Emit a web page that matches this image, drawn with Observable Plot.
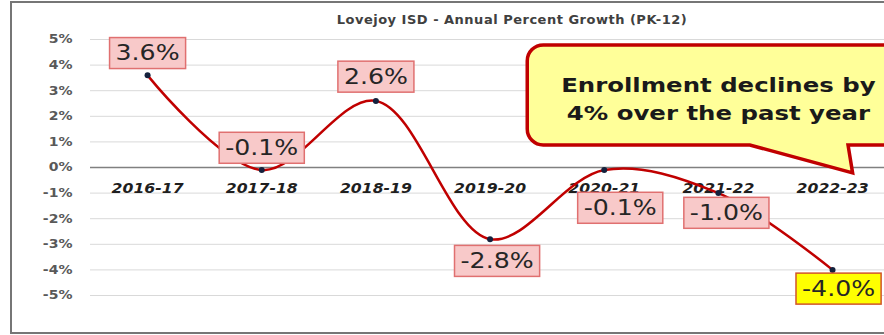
<!DOCTYPE html>
<html>
<head>
<meta charset="utf-8">
<script src="https://cdn.jsdelivr.net/npm/d3@7"></script>
<script src="https://cdn.jsdelivr.net/npm/@observablehq/plot@0.6"></script>
<style>
  html, body { margin: 0; padding: 0; background: #fff; }
  #wrap { position: relative; width: 884px; height: 335px; overflow: hidden; background: #fff; }
  #frame { position: absolute; left: 10px; top: 1px; width: 1010px; height: 333px; border: 2px solid #767676; box-sizing: border-box; pointer-events: none; }
  #title { position: relative; margin-left: 11px; width: 1002px; height: 33px; box-sizing: border-box; padding-top: 12px; line-height: 16px; text-align: center;
           font-family: "DejaVu Sans"; font-weight: bold; font-size: 13px; letter-spacing: 0.5px; color: #404040; white-space: nowrap; }
  #chart { position: relative; width: 884px; height: 302px; }
  #chart svg { display: block; }
</style>
</head>
<body>
<div id="wrap">
  <div id="title"></div>
  <div id="chart"></div>
  <div id="frame"></div>
</div>
<script>
// ---- data ----
const categories = ["2016-17", "2017-18", "2018-19", "2019-20", "2020-21", "2021-22", "2022-23"];
const growth = [3.6, -0.1, 2.6, -2.8, -0.1, -1.0, -4.0];
const yTicks = [5, 4, 3, 2, 1, 0, -1, -2, -3, -4, -5];
const titleText = "Lovejoy ISD - Annual Percent Growth (PK-12)";
const calloutLines = ["Enrollment declines by", "4% over the past year"];

// ---- layout (annotation placement, not data) ----
const labelOffsetX = [0, 0, 0, 7, 16, 8, 6];
const labelOffsetY = [-22, -22, -24, 22, 38, 20, 19];
const highlightIndex = 6;
const callout = { x1: 3.33, x2: 7.2, yTop: 4.77, yBottom: 0.86, tailLeft: 5.28, tailRight: 6.14, tipX: 6.18, tipY: -0.23, textX: 5.0, textY: 2.77 };

document.getElementById("title").textContent = titleText;

const idx = (d, i) => i;

function calloutMark(index, scales) {
  const x = scales.x, y = scales.y;
  const L = x(callout.x1), R = x(callout.x2), T = y(callout.yTop), B = y(callout.yBottom);
  const bl = x(callout.tailLeft), br = x(callout.tailRight), tx = x(callout.tipX), ty = y(callout.tipY);
  const r = 16;
  const p = d3.path();
  p.moveTo(L + r, T);
  p.lineTo(R, T);
  p.lineTo(R, B);
  p.lineTo(br, B);
  p.lineTo(tx, ty);
  p.lineTo(bl, B);
  p.lineTo(L + r, B);
  p.arcTo(L, B, L, B - r, r);
  p.lineTo(L, T + r);
  p.arcTo(L, T, L + r, T, r);
  p.closePath();
  const g = d3.create("svg:g").attr("class", "callout");
  g.append("path").attr("d", p.toString()).attr("fill", "#ffff99").attr("stroke", "#c00000")
    .attr("stroke-width", 3.5).attr("stroke-linejoin", "miter");
  return g.node();
}

// value labels: one mark per label so each can carry its own offset
const labelMarks = growth.map((v, i) => Plot.text([v], {
  x: () => i,
  y: d => d,
  text: d => d.toFixed(1) + "%",
  dx: labelOffsetX[i],
  dy: labelOffsetY[i],
  fontFamily: "DejaVu Sans",
  fontSize: 21,
  fontWeight: "normal",
  fill: "#262626"
}));

const chart = Plot.plot({
  width: 884,
  height: 302,
  marginLeft: 90,
  marginRight: 0,
  marginTop: 6,
  marginBottom: 40,
  x: { domain: [-0.5, 6.455], axis: null },
  y: { domain: [-5, 5], ticks: yTicks, tickFormat: d => d + "%", tickSize: 0, tickPadding: 18, label: null },
  style: { fontFamily: "DejaVu Sans", fontSize: "12px", fontWeight: "bold", color: "#595959", background: "transparent", overflow: "visible" },
  marks: [
    Plot.ruleY(yTicks.filter(d => d !== 0), { stroke: "#d9d9d9", strokeWidth: 1 }),
    Plot.ruleY([0], { stroke: "#808080", strokeWidth: 1.5 }),
    calloutMark,
    Plot.text(categories, { x: idx, y: () => 0, text: d => d, dy: 21, fontFamily: "DejaVu Sans", fontSize: 14, fontWeight: "bold", fontStyle: "italic", fill: "#1f1f1f" }),
    Plot.text([calloutLines.join("\n")], { x: () => callout.textX, y: () => callout.textY, text: d => d, lineHeight: 1.4, fontFamily: "DejaVu Sans", fontSize: 20, fontWeight: "bold", fill: "#1a1a1a" }),
    Plot.line(growth, { x: idx, y: d => d, curve: "catmull-rom", stroke: "#c00000", strokeWidth: 2.5 }),
    Plot.dot(growth, { x: idx, y: d => d, r: 3, fill: "#14213d", stroke: "none" }),
    ...labelMarks
  ]
});

document.getElementById("chart").appendChild(chart);

// the reference picture is horizontally stretched: widen glyphs the same way
function stretch(t, s) {
  const tf = t.getAttribute("transform") || "";
  const x = t.getAttribute("x");
  if (x !== null && x !== "") t.setAttribute("x", (+x) / s);
  t.setAttribute("transform", (tf + ` scale(${s},1)`).trim());
}

const svg = d3.select(chart);
svg.selectAll('g[aria-label^="y-axis"] text').each(function() { stretch(this, 1.17); });
svg.selectAll('g[font-size="14"] text').each(function() { stretch(this, 1.12); });
svg.selectAll('g[font-size="20"][font-weight="bold"] text').each(function() { stretch(this, 1.22); });

const S = 1.2;
svg.selectAll('g[font-size="21"][font-weight="normal"]').each(function(_, i) {
  const t = this.querySelector("text");
  if (!t) return;
  const tf = t.getAttribute("transform");
  const bb = t.getBBox();
  const hi = i === highlightIndex;
  const rect = document.createElementNS("http://www.w3.org/2000/svg", "rect");
  if (tf) rect.setAttribute("transform", tf);
  rect.setAttribute("x", bb.x * S - 6);
  rect.setAttribute("y", bb.y - 3.5);
  rect.setAttribute("width", bb.width * S + 12);
  rect.setAttribute("height", bb.height + 7);
  rect.setAttribute("fill", hi ? "#ffff00" : "#f8c9c9");
  rect.setAttribute("stroke", hi ? "#d2552a" : "#e07070");
  rect.setAttribute("stroke-width", 1.5);
  t.parentNode.insertBefore(rect, t);
  stretch(t, S);
});
</script>
</body>
</html>
